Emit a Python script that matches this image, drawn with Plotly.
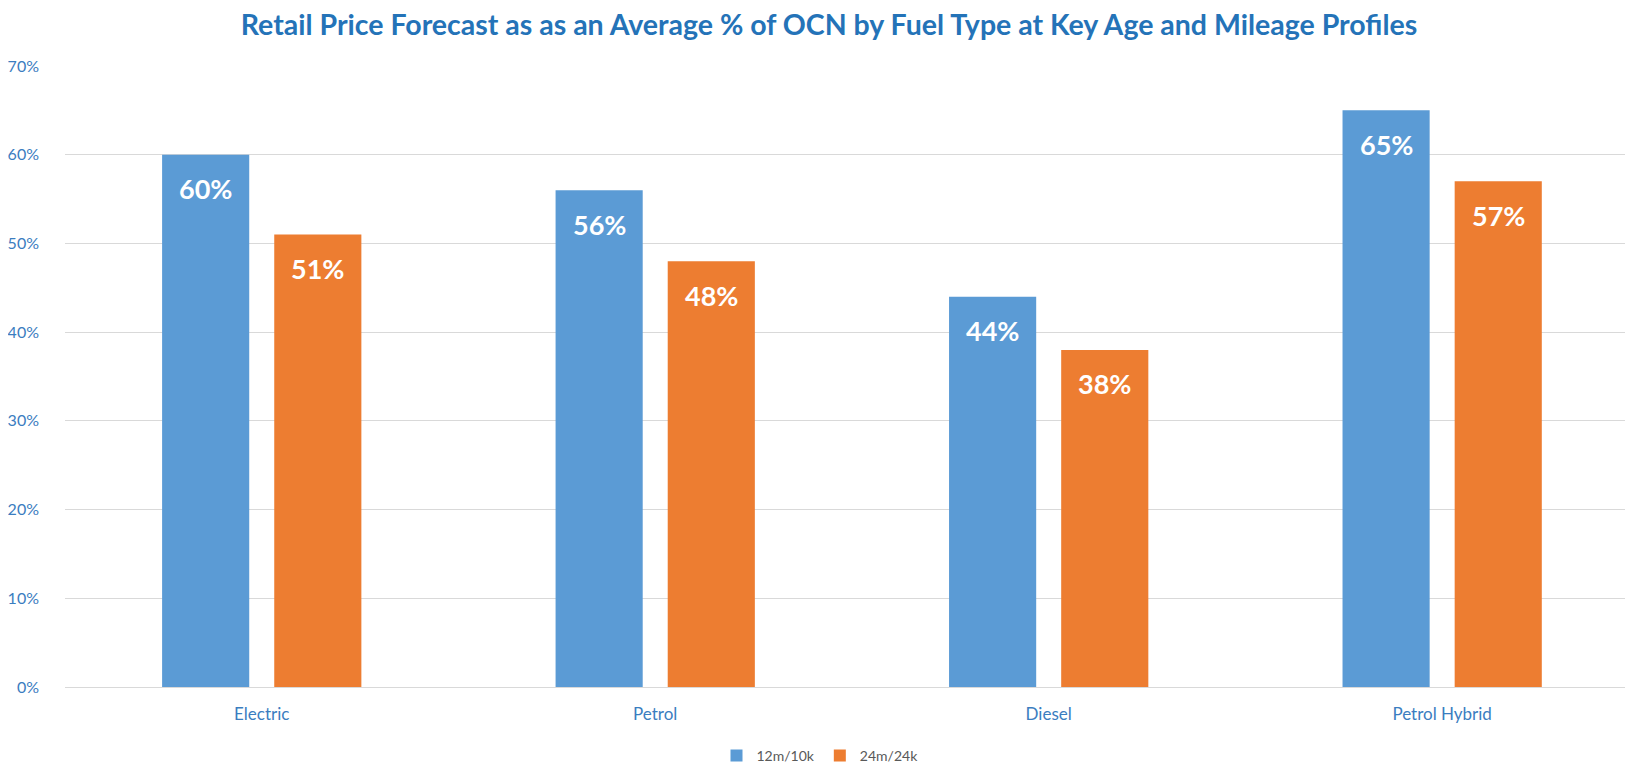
import plotly.graph_objects as go

categories = ["Electric", "Petrol", "Diesel", "Petrol Hybrid"]
series_12m = [0.60, 0.56, 0.44, 0.65]
series_24m = [0.51, 0.48, 0.38, 0.57]
series_names = ["12m/10k", "24m/24k"]
y_ticks = [0, 0.1, 0.2, 0.3, 0.4, 0.5, 0.6, 0.7]

BLUE = "#5B9BD5"
ORANGE = "#ED7D31"
TICK = "#3B7DC0"
TITLE = "#2473B8"
FONT = "Lato"

W, H = 1625, 762  # page body has an 8px margin

fig = go.Figure()
fig.add_trace(go.Bar(x=categories, y=series_12m, name=series_names[0],
                     marker=dict(color=BLUE, line=dict(width=0))))
fig.add_trace(go.Bar(x=categories, y=series_24m, name=series_names[1],
                     marker=dict(color=ORANGE, line=dict(width=0))))

# data labels
for vals, shift in ((series_12m, -56), (series_24m, 56)):
    for c, v in zip(categories, vals):
        fig.add_annotation(x=c, y=v, xref="x", yref="y", text=f"{round(v*100)}%",
                           showarrow=False, xshift=shift, yshift=-34,
                           font=dict(family=FONT, size=27, color="white", weight="bold"))

fig.update_layout(
    width=W, height=H,
    margin=dict(l=57, r=0, t=58, b=83, autoexpand=False),
    paper_bgcolor="white", plot_bgcolor="white",
    barmode="group", bargap=0.43, bargroupgap=0.223,
    title=dict(text="<b>Retail Price Forecast as as an Average % of OCN by Fuel Type at Key Age and Mileage Profiles</b>",
               x=821 / W, xref="container", xanchor="center",
               y=1 - 17 / H, yref="container", yanchor="middle",
               font=dict(family=FONT, size=28.5, color=TITLE)),
    font=dict(family=FONT, color=TICK),
    showlegend=True,
    legend=dict(orientation="h", xref="container", x=812 / W, xanchor="center",
                yref="container", y=1 - 748 / H, yanchor="middle",
                font=dict(family=FONT, size=14, color="#595959"),
                itemwidth=30, traceorder="normal", tracegroupgap=0),
    xaxis=dict(range=[-0.5, 3.485], showgrid=False, showline=False, ticks="",
               tickfont=dict(family=FONT, size=17, color=TICK), ticklabelstandoff=15,
               fixedrange=True, automargin=False),
    yaxis=dict(range=[0, 0.7], tickvals=y_ticks, tickformat=".0%",
               showgrid=True, gridcolor="#D9D9D9", gridwidth=1,
               zeroline=True, zerolinecolor="#D9D9D9", zerolinewidth=1,
               showline=False, ticks="", automargin=False,
               tickfont=dict(family=FONT, size=16, color=TICK), ticklabelstandoff=25),
)

fig.write_html("out.html")
